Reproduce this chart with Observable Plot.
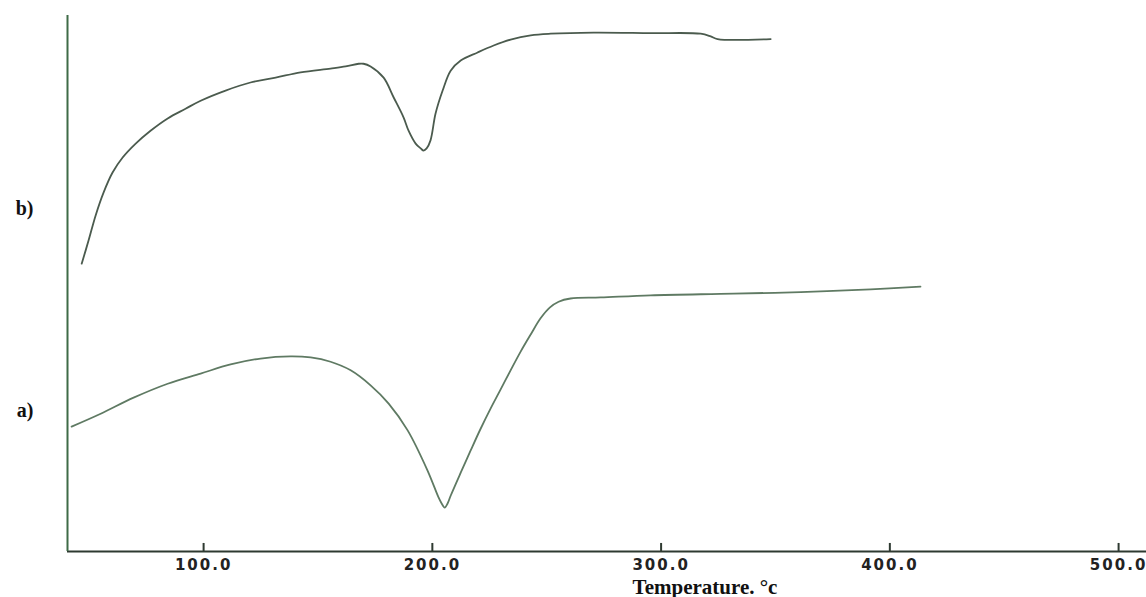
<!DOCTYPE html>
<html>
<head>
<meta charset="utf-8">
<script src="https://cdn.jsdelivr.net/npm/d3@7"></script>
<script src="https://cdn.jsdelivr.net/npm/@observablehq/plot@0.6"></script>
<style>
  html, body { margin: 0; padding: 0; background: #fff; }
  #chart svg { display: block; }
  #chart g[aria-label="x-axis tick label"] text { letter-spacing: 2px; font-size: 15px; }
</style>
</head>
<body>
<div id="chart"></div>
<script>
// Temperature (°C) and signal (arbitrary units)
const tempB = [46.7, 49.7, 52.8, 56.3, 60.2, 64.6, 70.3, 76.8, 84.3, 92.1, 98.7, 109.6, 120.5, 131.5, 142.4, 155.5, 162.1, 167.8, 169.9, 173.0, 178.7, 183.1, 187.4, 189.6, 192.7, 194.9, 196.2, 197.5, 199.2, 201.4, 204.5, 208.0, 212.4, 219.8, 226.8, 234.2, 243.0, 251.7, 270.5, 295.4, 317.3, 321.7, 324.7, 347.9];
const signalB = [53.7, 58.0, 62.7, 67.0, 70.7, 73.5, 76.1, 78.5, 80.8, 82.6, 84.1, 86.0, 87.5, 88.4, 89.4, 90.1, 90.5, 91.0, 91.0, 90.5, 88.4, 84.7, 81.0, 78.5, 76.1, 75.2, 74.8, 75.2, 76.7, 81.7, 86.0, 89.7, 91.6, 93.1, 94.4, 95.5, 96.3, 96.6, 96.8, 96.7, 96.6, 96.1, 95.6, 95.6];

const tempA = [42.3, 55.0, 69.4, 84.3, 98.7, 111.8, 124.9, 138.0, 146.8, 155.5, 164.3, 173.0, 180.9, 189.2, 197.9, 202.7, 204.0, 205.4, 206.7, 208.0, 212.4, 216.7, 221.1, 225.5, 229.8, 234.2, 238.6, 243.0, 247.3, 251.3, 255.2, 260.4, 273.6, 295.4, 331.7, 361.0, 391.6, 413.4];
const signalA = [23.3, 25.7, 28.7, 31.3, 33.2, 34.9, 36.0, 36.4, 36.2, 35.4, 33.8, 31.0, 27.6, 22.6, 15.1, 10.1, 9.0, 8.2, 9.0, 10.4, 14.7, 18.8, 22.9, 26.7, 30.2, 33.8, 37.3, 40.5, 43.5, 45.5, 46.6, 47.2, 47.4, 47.8, 48.1, 48.4, 48.9, 49.4];

const xTicks = [100, 200, 300, 400, 500];
const seriesLabels = ["a)", "b)"];
const seriesLabelY = [26.3, 64.0];
const xLabel = "Temperature. \u00B0c";

const xDomain = [40.5, 512.2];
const yDomain = [0, 100];

const rowsB = tempB.map((t, i) => ({t, v: signalB[i]}));
const rowsA = tempA.map((t, i) => ({t, v: signalA[i]}));

const chart = Plot.plot({
  width: 1146,
  height: 597,
  marginLeft: 67,
  marginRight: 0,
  marginTop: 15,
  marginBottom: 46,
  x: {domain: xDomain},
  y: {domain: yDomain},
  style: {background: "#fff", overflow: "visible"},
  marks: [
    Plot.line(rowsB, {x: "t", y: "v", stroke: "#4b5b4e", strokeWidth: 1.8, curve: "catmull-rom"}),
    Plot.line(rowsA, {x: "t", y: "v", stroke: "#5f7a63", strokeWidth: 1.8, curve: "catmull-rom"}),
    Plot.ruleX(xTicks, {y1: 0, y2: 1.5, stroke: "#2e3a31", strokeWidth: 2}),
    Plot.ruleY([yDomain[0]], {stroke: "#2e3a31", strokeWidth: 2}),
    Plot.ruleX([xDomain[0]], {stroke: "#3f6b47", strokeWidth: 2}),
    Plot.axisX({
      ticks: xTicks, tickSize: 0, tickPadding: 8, label: null,
      tickFormat: d => d.toFixed(1),
      fontSize: 15, fontWeight: "bold", fontFamily: "DejaVu Sans", fill: "#222"
    }),
    Plot.axisY({
      ticks: seriesLabelY, tickSize: 0, tickPadding: 34, label: null,
      tickFormat: (d, i) => seriesLabels[i],
      fontSize: 20, fontWeight: "bold", fontFamily: "Liberation Serif", fill: "#111"
    }),
    Plot.text([xLabel], {
      text: d => d, frameAnchor: "bottom", dx: 98, dy: 42,
      fontSize: 21, fontWeight: "bold", fontFamily: "Liberation Serif", fill: "#111"
    })
  ]
});
document.getElementById("chart").appendChild(chart);
</script>
</body>
</html>
